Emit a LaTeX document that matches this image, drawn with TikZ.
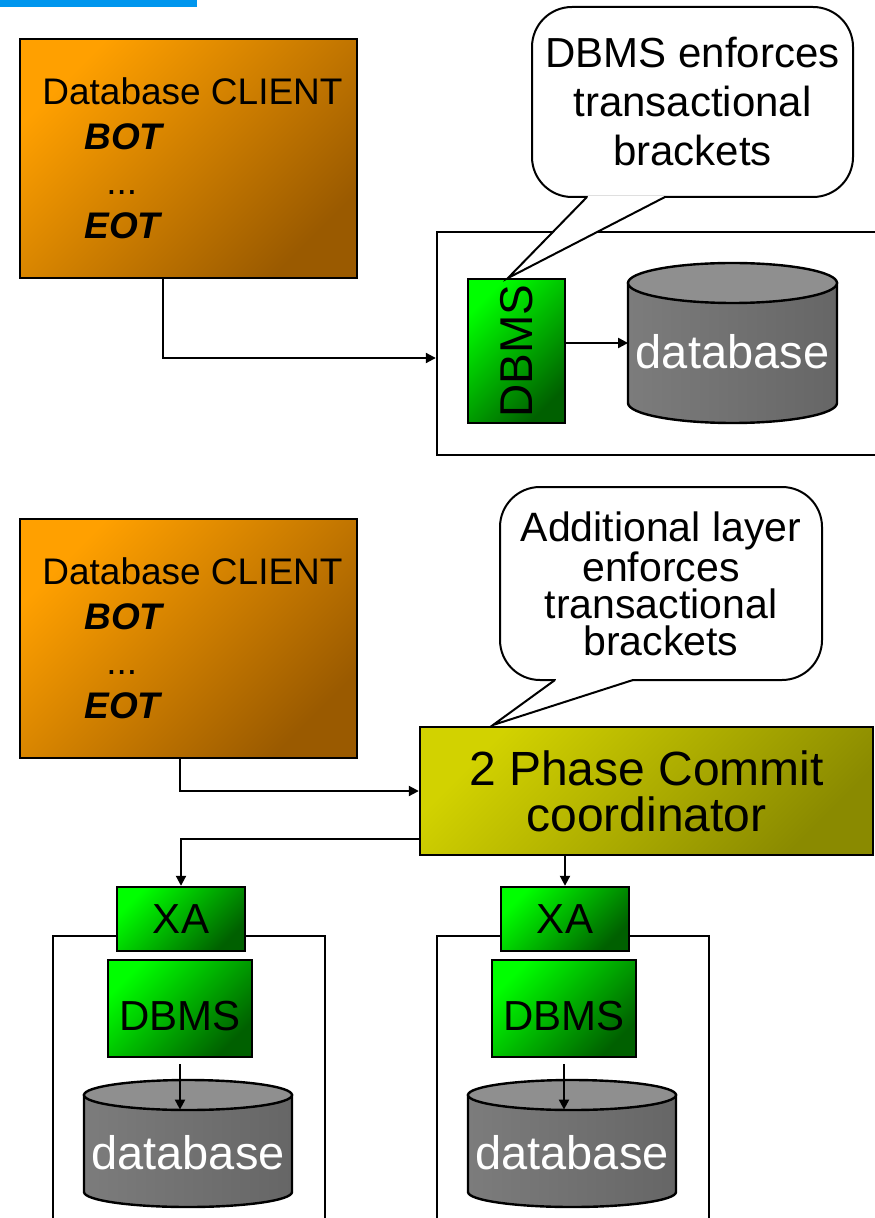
\documentclass[tikz,border=0pt]{standalone}
\usepackage{fontspec}
\setmainfont{Liberation Sans}
\usepackage{graphicx}
\usetikzlibrary{positioning, calc, arrows.meta}
\definecolor{BarBlue}{HTML}{0096EE}
\definecolor{ClientLight}{HTML}{FFA000}
\definecolor{ClientDark}{HTML}{9A5A00}
\definecolor{GreenLight}{HTML}{00FF00}
\definecolor{GreenDark}{HTML}{006000}
\definecolor{CoordLight}{HTML}{D2D200}
\definecolor{CoordDark}{HTML}{8A8A00}
\definecolor{DrumLeft}{HTML}{7C7C7C}
\definecolor{DrumRight}{HTML}{666666}
\definecolor{DrumTop}{HTML}{8F8F8F}
\tikzset{
    clientbox/.style={rectangle, draw=black, line width=1.2pt, top color=ClientLight, bottom color=ClientDark, shading angle=45, minimum width=168.5pt, minimum height=119.5pt, inner sep=0pt, align=left, font=\fontsize{18.5}{22.4}\selectfont},
    greenbox/.style={rectangle, draw=black, line width=1.2pt, top color=GreenLight, bottom color=GreenDark, shading angle=45, inner sep=0pt, font=\fontsize{21}{21}\selectfont},
    coordbox/.style={rectangle, draw=black, line width=1.2pt, top color=CoordLight, bottom color=CoordDark, shading angle=45, minimum width=226.5pt, minimum height=64pt, inner sep=0pt, align=center, font=\fontsize{24}{23}\selectfont},
    sitebox/.style={rectangle, draw=black, line width=1.2pt, inner sep=0pt},
    notebox/.style={rectangle, draw=black, line width=1pt, fill=white, rounded corners=20pt, align=center, inner sep=0pt, font=\fontsize{21}{24.5}\selectfont},
    drumtext/.style={text=white, minimum width=104pt, inner sep=0pt, font=\fontsize{23.5}{23.5}\selectfont},
    drumline/.style={draw=black, line width=1.2pt},
    hostline/.style={line width=1.2pt},
    arrow/.style={-{Triangle[length=5pt, width=5pt]}, line width=1pt},
}
\begin{document}
\begin{tikzpicture}[x=0.5pt, y=-0.5pt]
\useasboundingbox (0,0) rectangle (874,1218);

% title bar
\fill[BarBlue] (0,0) rectangle (197,7);

% upper part: one database
\node[sitebox, minimum width=221.5pt, minimum height=111.5pt] (siteA) at (658.5,343.5) {};
\draw[drumline, left color=DrumLeft, right color=DrumRight] (628,283) -- (628,403) arc[start angle=180, end angle=360, x radius=52.25pt, y radius=10pt] -- (837,283) -- cycle;
\draw[drumline, fill=DrumTop] (732.5,283) ellipse [x radius=52.25pt, y radius=10pt];

\node[clientbox] (clientA) at (188.5,158.5) {\hspace*{4pt}Database CLIENT\\\hspace*{25pt}\textbf{\textit{BOT}}\\\hspace*{36pt}...\\\hspace*{25pt}\textbf{\textit{EOT}}};
\node[greenbox, minimum width=48.5pt, minimum height=72pt, font=\fontsize{23}{23}\selectfont] (dbmsA) at (516.5,351) {\rotatebox{90}{DBMS}};
\node[drumtext] (dbA) at (732.5,352) {database};

\draw[arrow] ([xshift=72pt]clientA.south west) |- (siteA.west |- 0,358);
\draw[arrow] (dbmsA.east |- 0,343) -- (dbA.west |- 0,343);

% callout of the upper part
\node[notebox, minimum width=160.5pt, minimum height=95pt] (noteA) at (692.5,102) {DBMS enforces\\transactional\\brackets};
\coordinate (tipA) at (508,278);
\fill[white] (587,197) -- (tipA) -- (665,197) -- cycle;
\draw[white, line width=1.4pt] (588,197) -- (664,197);
\draw[line width=1pt] (587,197) -- (tipA) -- (665,197);

% lower part: two databases
\foreach \i/\dx in {1/0, 2/384} {
    \draw[hostline] (53+\dx,1230) |- (325+\dx,936) -- (325+\dx,1230);
    \draw[drumline, left color=DrumLeft, right color=DrumRight] (84+\dx,1095) -- (84+\dx,1192) arc[start angle=180, end angle=360, x radius=52pt, y radius=7.5pt] -- (292+\dx,1095) -- cycle;
    \draw[drumline, fill=DrumTop] (188+\dx,1095) ellipse [x radius=52pt, y radius=7.5pt];
    \node[greenbox, minimum width=64pt, minimum height=32pt] (xa\i) at (181+\dx,919) {XA};
    \node[greenbox, minimum width=72pt, minimum height=48.5pt, text height=21.5pt, text depth=0pt] (rm\i) at (180+\dx,1008.5) {DBMS};
    \node[drumtext, minimum height=43pt] (store\i) at (188+\dx,1153) {database};
    \draw[arrow, shorten <=3pt] (rm\i.south) -- (rm\i.south |- store\i.north);
}

\node[clientbox] (clientB) at (188.5,638.5) {\hspace*{4pt}Database CLIENT\\\hspace*{25pt}\textbf{\textit{BOT}}\\\hspace*{36pt}...\\\hspace*{25pt}\textbf{\textit{EOT}}};
\node[coordbox] (coord) at (646.5,791) {2 Phase Commit\\coordinator};

\draw[arrow] ([xshift=80.5pt]clientB.south west) |- (coord.west);
\draw[arrow] (coord.west |- 0,839) -| (xa1.north);
\draw[arrow] (coord.south -| xa2.north) -- (xa2.north);

% callout of the lower part
\node[notebox, minimum width=161pt, minimum height=96.5pt, font=\fontsize{20.5}{18.5}\selectfont] (noteB) at (661,583.5) {Additional layer\\enforces\\transactional\\brackets};
\coordinate (tipB) at (493,725);
\fill[white] (555,680) -- (tipB) -- (633,680) -- cycle;
\draw[white, line width=1.4pt] (556,680) -- (632,680);
\draw[line width=1pt] (555,680) -- (tipB) -- (633,680);
\end{tikzpicture}
\end{document}
